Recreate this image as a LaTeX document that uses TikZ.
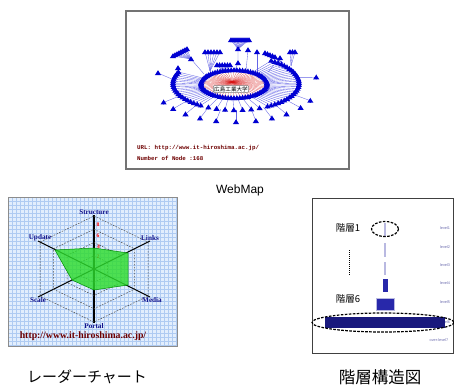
\documentclass[tikz,border=0pt]{standalone}
\usepackage{fontspec}
\setmainfont{Liberation Sans}
\newfontfamily\cjk{Noto Sans CJK JP}
\newfontfamily\serifb{Liberation Serif}
\newfontfamily\monob{Liberation Mono}
\definecolor{nblue}{RGB}{0,0,210}
\definecolor{lnblue}{RGB}{100,100,230}
\definecolor{hubred}{RGB}{215,20,20}
\definecolor{dred}{RGB}{110,0,0}
\definecolor{navyt}{RGB}{20,20,140}
\definecolor{gbg}{RGB}{226,238,253}
\definecolor{gline}{RGB}{175,203,242}
\definecolor{rgreen}{RGB}{45,220,45}
\definecolor{rgreend}{RGB}{0,140,0}
\definecolor{lav}{RGB}{185,185,225}
\definecolor{barblue}{RGB}{40,40,170}
\definecolor{bignavy}{RGB}{25,25,125}
\definecolor{lvl}{RGB}{110,110,175}
\tikzset{
  tri/.pic={\fill[nblue] (-3.1,2.1) -- (3.1,2.1) -- (1.2,-0.7) -- (0,-2.9) -- (-1.2,-0.7) -- cycle;
            \fill[nblue] (0,0.3) circle[radius=1.9];},
  redl/.style={draw=hubred, line width=0.22pt, opacity=0.85},
  bluel/.style={draw=lnblue, line width=0.35pt},
  axisl/.style={draw=black, line width=1.1pt},
  hexl/.style={draw=black!70, line width=0.5pt, dash pattern=on 1.6pt off 1.4pt},
  ringl/.style={draw=black, line width=1.2pt, dash pattern=on 2.6pt off 1.4pt},
  axlab/.style={font=\serifb\bfseries\fontsize{7.2}{7.2}\selectfont, text=navyt, inner sep=0},
  numlab/.style={font=\serifb\bfseries\fontsize{5.5}{5.5}\selectfont, text=red, inner sep=0},
  lvllab/.style={font=\fontsize{3.8}{3.8}\selectfont, text=lvl, inner sep=0},
  caption/.style={font=\cjk\fontsize{15}{15}\selectfont, inner sep=0},
  jlab/.style={font=\cjk\fontsize{9.5}{9.5}\selectfont, inner sep=0}
}
\begin{document}
\begin{tikzpicture}[x=1pt,y=-1pt]
\useasboundingbox (0,0) rectangle (454,385);
\fill[white] (0,0) rectangle (454,385);

% ================= WebMap =================
\draw[draw=black!55, line width=1.2pt] (126,11) rectangle (349,169);
% red spokes from hub
\foreach \a in {0,6,...,354}
  \draw[redl] (232,82) -- ({234+33*cos(\a)},{84+14*sin(\a)});
% inner ring -> outer ring
\foreach \a in {-56,-52,...,56}
  \draw[bluel] ({234+33*cos(\a)},{84+14*sin(\a)}) -- ({236+63*cos(\a)},{83+27*sin(\a)});
\foreach \a in {60,68,...,116}
  \draw[bluel] ({234+33*cos(\a)},{84+14*sin(\a)}) -- ({236+63*cos(\a)},{83+27*sin(\a)});
\foreach \a in {124,128,...,204}
  \draw[bluel] ({234+33*cos(\a)},{84+14*sin(\a)}) -- ({236+63*cos(\a)},{83+27*sin(\a)});
% outer ring -> third level
\foreach \a in {-12,25,38,52,64,76,90,104,116,128,140,152}
  \draw[bluel] ({236+63*cos(\a)},{83+27*sin(\a)}) -- ({236+82*cos(\a)},{85+37*sin(\a)});
% top clusters lines
\foreach \i in {0,...,9}
  \draw[bluel] ({231+2*\i},40) -- (238,49);
\draw[bluel] (238,49) -- (238,63) -- (235,70);
\draw[bluel] (248,50) -- (246,71);
\foreach \i in {0,...,7}
  \draw[bluel] ({173+2*\i},{56-\i}) -- (191,59);
\draw[bluel] (191,59) -- (204,74);
\foreach \i in {0,...,5}
  \draw[bluel] ({205+3*\i},52) -- (210,71);
\foreach \i in {0,...,5}
  \draw[bluel] ({217+2.6*\i},65) -- (223,71);
\draw[bluel] (257,52) -- (257,71);
\foreach \i in {0,...,4}
  \draw[bluel] ({265+2.5*\i},{53+\i}) -- (283,63);
\foreach \i in {0,...,4}
  \draw[bluel] ({265+2.5*\i},{53+\i}) -- (278,60);
\draw[bluel] (280,58) -- (268,72);
\foreach \i in {0,1,2}
  \draw[bluel] ({290+2.5*\i},52) -- (291,66);
\draw[bluel] (178,68) -- (176,78);
\draw[bluel] (158,73) -- (174,80);
% nodes
\foreach \a in {0,5,...,355}
  \pic at ({234+33*cos(\a)},{84+14*sin(\a)}) {tri};
\foreach \a in {-56,-52,...,56}
  \pic at ({236+63*cos(\a)},{83+27*sin(\a)}) {tri};
\foreach \a in {60,68,...,116}
  \pic at ({236+63*cos(\a)},{83+27*sin(\a)}) {tri};
\foreach \a in {124,128,...,204}
  \pic at ({236+63*cos(\a)},{83+27*sin(\a)}) {tri};
\foreach \a in {-12,25,38,52,64,76,90,104,116,128,140,152}
  \pic at ({236+82*cos(\a)},{85+37*sin(\a)}) {tri};
\foreach \i in {0,...,9}
  \pic at ({231+2*\i},40) {tri};
\pic at (238,49) {tri};
\pic at (238,63) {tri};
\pic at (248,50) {tri};
\foreach \i in {0,...,7}
  \pic at ({173+2*\i},{56-\i}) {tri};
\pic at (191,59) {tri};
\foreach \i in {0,...,5}
  \pic at ({205+3*\i},52) {tri};
\foreach \i in {0,...,5}
  \pic at ({217+2.6*\i},65) {tri};
\pic at (257,52) {tri};
\foreach \i in {0,...,4}
  \pic at ({265+2.5*\i},{53+\i}) {tri};
\pic at (280,58) {tri};
\foreach \i in {0,1,2}
  \pic at ({290+2.5*\i},52) {tri};
\pic at (178,68) {tri};
\pic at (158,73) {tri};
\node[draw=black!50, fill=white, rounded corners=1pt, inner sep=0.8pt,
      font=\cjk\fontsize{5.6}{5.6}\selectfont] (hub) at (231,89) {広島工業大学};
\node[anchor=west, inner sep=0, text=dred, font=\monob\bfseries\fontsize{5.8}{5.8}\selectfont] (url1) at (137,148) {URL: http://www.it-hiroshima.ac.jp/};
\node[anchor=west, inner sep=0, text=dred, font=\monob\bfseries\fontsize{5.8}{5.8}\selectfont] (nnode) at (137,158) {Number of Node :168};
\node[inner sep=0, font=\fontsize{12}{12}\selectfont] (cap1) at (240,190) {WebMap};

% ================= Radar chart =================
\fill[gbg] (8,197) rectangle (177,346);
\foreach \i in {0,...,42}
  \draw[gline, line width=0.3pt] ({8+4*\i},197) -- ({8+4*\i},346);
\foreach \j in {0,...,37}
  \draw[gline, line width=0.3pt] (8,{197+4*\j}) -- (177,{197+4*\j});
\draw[black!45, line width=0.6pt] (8,197) rectangle (177,346);
% axes
\coordinate (rc) at (94,269);
\draw[axisl] (rc) -- (94,215);
\draw[axisl] (rc) -- (94,323);
\draw[axisl] (rc) -- (38,241);
\draw[axisl] (rc) -- (150,241);
\draw[axisl] (rc) -- (38,297);
\draw[axisl] (rc) -- (150,297);
% dashed hexagons
\foreach \L in {10,7.5,5,2.5}
  \draw[hexl] ({94},{269-5.3*\L}) -- ({94+5.4*\L},{269-2.7*\L}) -- ({94+5.4*\L},{269+2.7*\L})
     -- ({94},{269+5.3*\L}) -- ({94-5.4*\L},{269+2.7*\L}) -- ({94-5.4*\L},{269-2.7*\L}) -- cycle;
% numbers
\node[numlab] (n8) at (98,225) {8};
\node[numlab] (n6) at (98,236) {6};
\node[numlab] (n4) at (98.5,247) {4};
\node[numlab] (n2) at (98,257) {2};
% data polygon
\fill[rgreen, fill opacity=0.82] (94,248) -- (128,253) -- (128,285) -- (94,290) -- (72,280) -- (55,250) -- cycle;
\draw[rgreend, line width=0.5pt] (94,248) -- (128,253) -- (128,285) -- (94,290) -- (72,280) -- (55,250) -- cycle;
% labels
\node[axlab] (lstruct) at (94,212) {Structure};
\node[axlab] (lupd) at (40,238) {Update};
\node[axlab] (llinks) at (150,238) {Links};
\node[axlab] (lscale) at (38,300) {Scale};
\node[axlab] (lmedia) at (152,300) {Media};
\node[axlab] (lportal) at (94,326) {Portal};
\node[inner sep=0, text=dred, font=\serifb\bfseries\fontsize{9.8}{9.8}\selectfont] (url2) at (83,336) {http://www.it-hiroshima.ac.jp/};
\node[caption] (cap2) at (87,377) {レーダーチャート};

% ================= Hierarchy =================
\draw[black!75, line width=0.7pt] (312,198) rectangle (453,353);
\node[jlab] (h1) at (348,228) {階層1};
\node[jlab] (h6) at (348,299) {階層6};
\draw[black, line width=0.8pt, dash pattern=on 1pt off 1pt] (349,250) -- (349,276);
\draw[lav, line width=2pt] (385,223) -- (385,237);
\draw[lav, line width=2pt] (385,243) -- (385,257);
\draw[lav, line width=2pt] (385,262) -- (385,275);
\draw[ringl] (385,229) ellipse [x radius=13.5, y radius=7.5];
\fill[barblue] (383,279) rectangle (388,292);
\draw[fill=barblue, draw=lav, line width=0.5pt] (376,298) rectangle (394,310);
\node[lvllab] (lv1) at (445,228) {level1};
\node[lvllab] (lv2) at (445,247) {level2};
\node[lvllab] (lv3) at (445,265) {level3};
\node[lvllab] (lv4) at (445,283) {level4};
\node[lvllab] (lv5) at (445,302) {level5};
\node[lvllab] (lv6) at (445,322) {level6};
\node[lvllab] (lv7) at (439,340) {over-level7};
\fill[bignavy] (325,317) rectangle (445,328);
\draw[ringl] (383,322.5) ellipse [x radius=71, y radius=9.5];
\node[caption, font=\cjk\fontsize{16.5}{16.5}\selectfont] (cap3) at (380,377) {階層構造図};
\end{tikzpicture}
\end{document}
